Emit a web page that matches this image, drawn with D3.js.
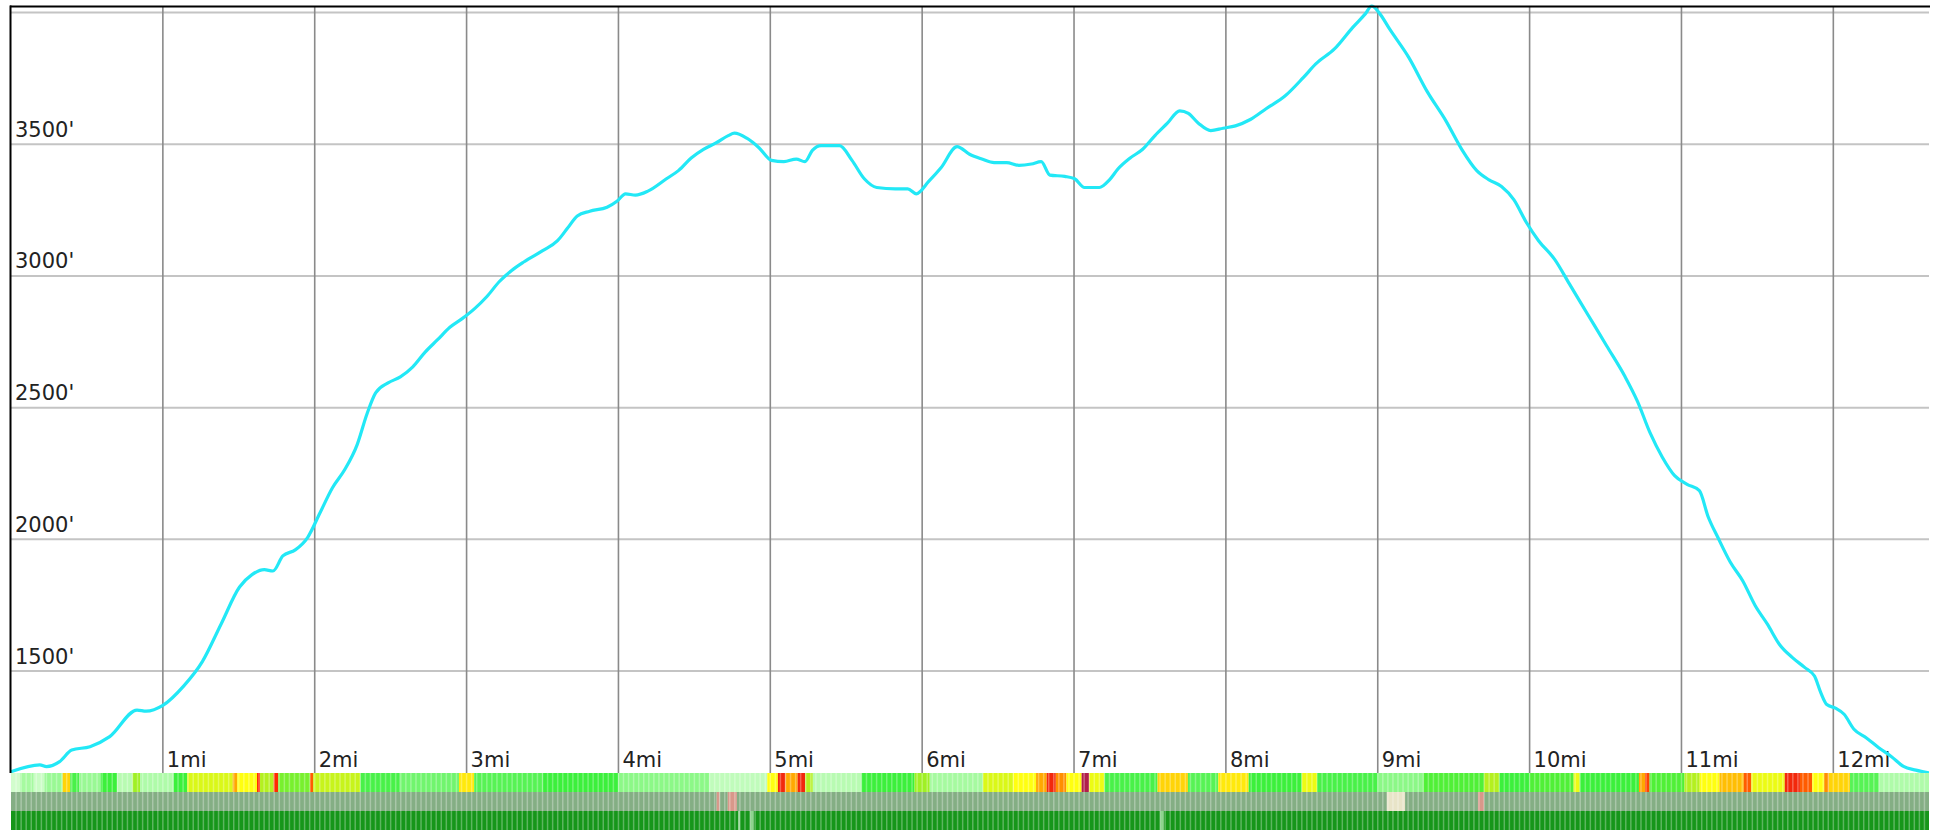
<!DOCTYPE html>
<html>
<head>
<meta charset="utf-8">
<script src="https://cdn.jsdelivr.net/npm/d3@7/dist/d3.min.js"></script>
<style>
  body { margin: 0; background: #fff; }
  svg { display: block; }
  text { font-family: "DejaVu Sans", sans-serif; fill: #222; }
</style>
</head>
<body>
<svg id="chart"></svg>
<script>
// elevation profile (distance in miles, elevation in feet)
const miles = [0.00, 0.19, 0.234, 0.32, 0.40, 0.52, 0.65, 0.83, 0.89, 1.00, 1.138, 1.261, 1.383, 1.505, 1.587, 1.668, 1.725, 1.790, 1.872, 1.953,
  2.035, 2.116, 2.198, 2.279, 2.344, 2.401, 2.483, 2.564, 2.646, 2.727, 2.809, 2.890, 2.971, 3.053, 3.134, 3.216, 3.297, 3.379, 3.501, 3.599,
  3.664, 3.729, 3.811, 3.925, 3.990, 4.047, 4.112, 4.194, 4.316, 4.397, 4.479, 4.560, 4.642, 4.723, 4.764, 4.845, 4.927, 5.008, 5.090, 5.171,
  5.228, 5.277, 5.334, 5.456, 5.538, 5.619, 5.701, 5.823, 5.905, 5.961, 6.043, 6.124, 6.230, 6.312, 6.393, 6.474, 6.556, 6.637, 6.719, 6.784,
  6.841, 6.939, 7.004, 7.069, 7.167, 7.232, 7.289, 7.370, 7.452, 7.533, 7.615, 7.696, 7.753, 7.819, 7.900, 7.982, 8.063, 8.161, 8.267, 8.389,
  8.511, 8.592, 8.715, 8.837, 8.918, 8.960, 9.008, 9.081, 9.204, 9.326, 9.448, 9.554, 9.652, 9.733, 9.815, 9.896, 9.978, 10.059, 10.165, 10.263,
  10.385, 10.507, 10.629, 10.711, 10.792, 10.874, 10.955, 11.037, 11.118, 11.175, 11.240, 11.322, 11.403, 11.485, 11.566, 11.648, 11.729, 11.811, 11.876, 11.916,
  11.957, 12.014, 12.071, 12.136, 12.218, 12.299, 12.381, 12.462, 12.544, 12.63];
const feet = [1118, 1144, 1137, 1156, 1200, 1213, 1251, 1352, 1348, 1370, 1444, 1537, 1678, 1819, 1866, 1885, 1880, 1937, 1960, 2007,
  2101, 2195, 2265, 2359, 2476, 2556, 2594, 2617, 2655, 2711, 2758, 2805, 2838, 2876, 2922, 2979, 3021, 3054, 3096, 3134,
  3181, 3228, 3246, 3261, 3284, 3312, 3307, 3322, 3369, 3401, 3448, 3481, 3505, 3533, 3542, 3523, 3486, 3439, 3434, 3444,
  3434, 3477, 3495, 3495, 3439, 3369, 3336, 3331, 3331, 3312, 3359, 3411, 3491, 3462, 3444, 3430, 3430, 3420, 3425, 3434,
  3383, 3378, 3369, 3336, 3336, 3364, 3406, 3448, 3481, 3533, 3580, 3627, 3617, 3580, 3552, 3561, 3570, 3594, 3636, 3683,
  3754, 3805, 3862, 3945, 3995, 4025, 4000, 3935, 3830, 3700, 3590, 3480, 3400, 3365, 3340, 3290, 3204, 3134, 3063, 2969,
  2852, 2735, 2617, 2523, 2406, 2312, 2242, 2209, 2185, 2087, 2007, 1913, 1843, 1749, 1678, 1599, 1552, 1514, 1481, 1420,
  1373, 1359, 1336, 1279, 1246, 1209, 1176, 1138, 1124, 1113];

const totalMiles = 12.63;
const elevTicks = [1500, 2000, 2500, 3000, 3500, 4000];
const mileTicks = [1, 2, 3, 4, 5, 6, 7, 8, 9, 10, 11, 12];

// slope strip: run start (mi) and slope (deg)
const slopeStart = [0, 0.06, 0.15, 0.22, 0.34, 0.39, 0.45, 0.59, 0.70, 0.80, 0.85, 1.07, 1.16, 1.46, 1.49, 1.62, 1.64, 1.73, 1.76, 1.97,
  1.99, 2.30, 2.56, 2.95, 3.05, 3.5, 4.0, 4.6, 4.98, 5.05, 5.10, 5.18, 5.23, 5.28, 5.6, 5.95, 6.05, 6.4, 6.6, 6.75,
  6.82, 6.88, 6.95, 7.05, 7.10, 7.2, 7.55, 7.75, 7.95, 8.15, 8.5, 8.6, 9.0, 9.3, 9.7, 9.8, 10.0, 10.29, 10.33, 10.72,
  10.76, 10.79, 11.02, 11.12, 11.25, 11.41, 11.46, 11.68, 11.78, 11.86, 11.94, 11.97, 12.11, 12.30];
const slopeDeg = [3, 8, 4, 9, 28, 15, 9, 16, 6, 21, 7, 16, 24, 30, 26, 35, 22, 35, 19, 33,
  23, 15, 12, 27, 14, 16, 10, 5, 26, 36, 30, 36, 22, 6, 16, 21, 8, 24, 26, 30,
  36, 31, 26, 41, 25, 15, 28, 14, 27, 16, 25, 15, 10, 17, 22, 16, 17, 25, 16, 30,
  34, 17, 22, 26, 29, 33, 25, 36, 33, 26, 31, 28, 14, 7];

// middle strip runs
const coverStart = [0, 4.647, 4.667, 4.72, 4.78, 9.06, 9.18, 9.66, 9.70];
const coverKind = ["base", "pink", "base", "pink", "base", "pale", "base", "pink", "base"];

// bottom strip runs
const canopyStart = [0, 4.79, 4.80, 4.87, 4.89, 7.57, 7.59];
const canopyKind = ["dense", "light", "dense", "light", "dense", "light", "dense"];

const sampleMiles = 1 / 30;

const W = 1939, H = 831;
const plot = { left: 11, right: 1929, top: 6, bottom: 773 };
const bandH = 19;

const svg = d3.select('#chart').attr('width', W).attr('height', H);

const x = d3.scaleLinear().domain([0, totalMiles]).range([plot.left, plot.right]);
const y = d3.scaleLinear().domain(d3.extent(feet)).range([plot.bottom, plot.top]);

const slopeColor = d3.scaleLinear()
  .domain([0, 8, 16, 22, 26, 30, 35, 41])
  .range(['#ecffe8', '#a6faa0', '#3cf03c', '#b4f020', '#ffff10', '#ffa800', '#ff2a00', '#b0204a'])
  .clamp(true);
const coverColor = { base: '#84ae84', pink: '#d8988a', pale: '#e8e4c8' };
const canopyColor = { dense: '#16961a', light: '#8ed48e' };

// horizontal grid
svg.append('g')
  .selectAll('line')
  .data(elevTicks)
  .enter()
  .append('line')
  .attr('x1', plot.left)
  .attr('x2', plot.right)
  .attr('y1', d => y(d))
  .attr('y2', d => y(d))
  .attr('stroke', '#c4c4c4')
  .attr('stroke-width', 2);

// vertical grid
svg.append('g')
  .selectAll('line')
  .data(mileTicks)
  .enter()
  .append('line')
  .attr('x1', d => x(d))
  .attr('x2', d => x(d))
  .attr('y1', plot.top)
  .attr('y2', plot.bottom)
  .attr('stroke', '#8a8a8a')
  .attr('stroke-width', 1.6);

// elevation labels (only those that fit)
svg.append('g')
  .selectAll('text')
  .data(elevTicks.filter(d => y(d) - 22 > plot.top))
  .enter()
  .append('text')
  .attr('x', 15)
  .attr('y', d => y(d) - 7.5)
  .style('font-size', '21px')
  .text(d => d + "'");

// distance labels
svg.append('g')
  .selectAll('text')
  .data(mileTicks)
  .enter()
  .append('text')
  .attr('x', d => x(d) + 4)
  .attr('y', plot.bottom - 6)
  .style('font-size', '21px')
  .text(d => d + 'mi');

// profile line
svg.append('clipPath').attr('id', 'clip')
  .append('rect')
  .attr('x', plot.left).attr('y', plot.top - 2)
  .attr('width', plot.right - plot.left).attr('height', plot.bottom - plot.top + 2);

const line = d3.line()
  .x((d, i) => x(miles[i]))
  .y(d => y(d))
  .curve(d3.curveMonotoneX);

svg.append('path')
  .datum(feet)
  .attr('clip-path', 'url(#clip)')
  .attr('d', line)
  .attr('fill', 'none')
  .attr('stroke', '#22e8f6')
  .attr('stroke-width', 3.2)
  .attr('stroke-linejoin', 'round');

// strips below the plot
function drawStrip(starts, values, colorOf, row) {
  const top = plot.bottom + row * bandH;
  svg.append('g')
    .selectAll('rect')
    .data(starts)
    .enter()
    .append('rect')
    .attr('x', d => x(d))
    .attr('y', top)
    .attr('width', (d, i) => x(i + 1 < starts.length ? starts[i + 1] : totalMiles) - x(d))
    .attr('height', bandH)
    .attr('fill', (d, i) => colorOf(values[i]));
}
drawStrip(slopeStart, slopeDeg, slopeColor, 0);
drawStrip(coverStart, coverKind, k => coverColor[k], 1);
drawStrip(canopyStart, canopyKind, k => canopyColor[k], 2);

// sample seams
svg.append('g')
  .selectAll('line')
  .data(d3.range(sampleMiles, totalMiles, sampleMiles))
  .enter()
  .append('line')
  .attr('x1', d => x(d))
  .attr('x2', d => x(d))
  .attr('y1', plot.bottom)
  .attr('y2', H)
  .attr('stroke', '#fff')
  .attr('stroke-opacity', 0.3)
  .attr('stroke-width', 1.5);

// frame
svg.append('line')
  .attr('x1', plot.left - 1).attr('x2', plot.right + 1)
  .attr('y1', plot.top + 0.5).attr('y2', plot.top + 0.5)
  .attr('stroke', '#000').attr('stroke-width', 2);
svg.append('line')
  .attr('x1', plot.left - 0.5).attr('x2', plot.left - 0.5)
  .attr('y1', plot.top - 0.5).attr('y2', plot.bottom)
  .attr('stroke', '#000').attr('stroke-width', 2);
</script>
</body>
</html>
